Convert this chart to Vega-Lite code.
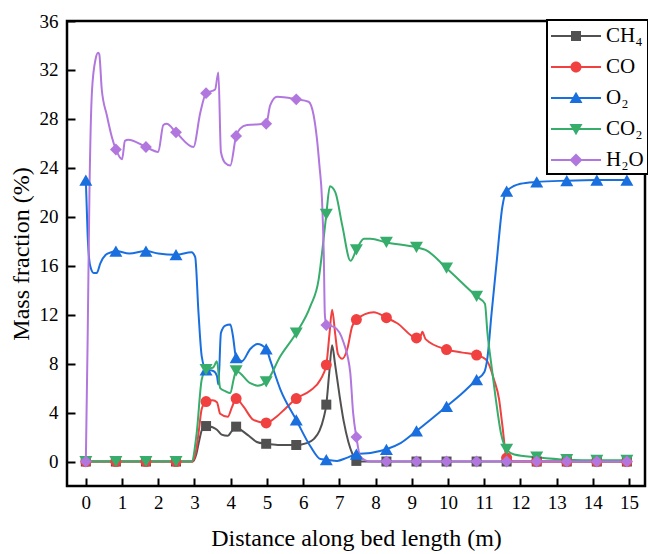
{
  "$schema": "https://vega.github.io/schema/vega-lite/v6.json",
  "width": 578,
  "height": 465,
  "autosize": {"type": "none"},
  "padding": {"left": 67, "top": 21, "right": 3, "bottom": 68},
  "background": "white",
  "config": {
    "view": {"stroke": "black", "strokeWidth": 2.5},
    "font": "Liberation Serif"
  },
  "datasets": {
    "curve": [
      {"gas":"CH₄","x":0,"y":0},{"gas":"CH₄","x":0.83,"y":0},{"gas":"CH₄","x":1.66,"y":0},{"gas":"CH₄","x":2.49,"y":0},{"gas":"CH₄","x":2.95,"y":0},{"gas":"CH₄","x":3.05,"y":0.6},{"gas":"CH₄","x":3.13,"y":1.7},{"gas":"CH₄","x":3.22,"y":2.7},{"gas":"CH₄","x":3.32,"y":2.9},{"gas":"CH₄","x":3.5,"y":2.8},{"gas":"CH₄","x":3.62,"y":2.6},{"gas":"CH₄","x":3.75,"y":2.2},{"gas":"CH₄","x":3.92,"y":2.1},{"gas":"CH₄","x":4.02,"y":2.45},{"gas":"CH₄","x":4.15,"y":2.85},{"gas":"CH₄","x":4.3,"y":2.55},{"gas":"CH₄","x":4.5,"y":2.1},{"gas":"CH₄","x":4.72,"y":1.6},{"gas":"CH₄","x":4.98,"y":1.45},{"gas":"CH₄","x":5.3,"y":1.35},{"gas":"CH₄","x":5.81,"y":1.35},{"gas":"CH₄","x":6.1,"y":1.5},{"gas":"CH₄","x":6.3,"y":1.85},{"gas":"CH₄","x":6.45,"y":2.5},{"gas":"CH₄","x":6.57,"y":3.6},{"gas":"CH₄","x":6.64,"y":4.65},{"gas":"CH₄","x":6.72,"y":7.2},{"gas":"CH₄","x":6.8,"y":9.5},{"gas":"CH₄","x":6.88,"y":8.0},{"gas":"CH₄","x":7.0,"y":5.5},{"gas":"CH₄","x":7.12,"y":3.3},{"gas":"CH₄","x":7.25,"y":1.6},{"gas":"CH₄","x":7.35,"y":0.7},{"gas":"CH₄","x":7.47,"y":0.05},{"gas":"CH₄","x":7.6,"y":0},{"gas":"CH₄","x":8.3,"y":0},{"gas":"CH₄","x":9.13,"y":0},{"gas":"CH₄","x":9.96,"y":0},{"gas":"CH₄","x":10.79,"y":0},{"gas":"CH₄","x":11.62,"y":0},{"gas":"CH₄","x":12.45,"y":0},{"gas":"CH₄","x":13.28,"y":0},{"gas":"CH₄","x":14.11,"y":0},{"gas":"CH₄","x":14.94,"y":0},

      {"gas":"CO","x":0,"y":0},{"gas":"CO","x":0.83,"y":0},{"gas":"CO","x":1.66,"y":0},{"gas":"CO","x":2.49,"y":0},{"gas":"CO","x":2.95,"y":0},{"gas":"CO","x":3.05,"y":1.0},{"gas":"CO","x":3.12,"y":2.5},{"gas":"CO","x":3.2,"y":4.3},{"gas":"CO","x":3.32,"y":4.9},{"gas":"CO","x":3.5,"y":5.0},{"gas":"CO","x":3.62,"y":4.85},{"gas":"CO","x":3.71,"y":3.9},{"gas":"CO","x":3.92,"y":3.65},{"gas":"CO","x":4.03,"y":4.4},{"gas":"CO","x":4.15,"y":5.15},{"gas":"CO","x":4.35,"y":4.5},{"gas":"CO","x":4.63,"y":3.4},{"gas":"CO","x":4.98,"y":3.15},{"gas":"CO","x":5.28,"y":3.7},{"gas":"CO","x":5.5,"y":4.3},{"gas":"CO","x":5.81,"y":5.15},{"gas":"CO","x":6.2,"y":5.8},{"gas":"CO","x":6.48,"y":6.7},{"gas":"CO","x":6.64,"y":7.9},{"gas":"CO","x":6.73,"y":10.5},{"gas":"CO","x":6.8,"y":12.4},{"gas":"CO","x":6.89,"y":10.3},{"gas":"CO","x":6.96,"y":8.8},{"gas":"CO","x":7.08,"y":8.4},{"gas":"CO","x":7.22,"y":9.2},{"gas":"CO","x":7.35,"y":11.0},{"gas":"CO","x":7.47,"y":11.6},{"gas":"CO","x":7.95,"y":12.2},{"gas":"CO","x":8.3,"y":11.75},{"gas":"CO","x":8.6,"y":11.3},{"gas":"CO","x":9.13,"y":10.1},{"gas":"CO","x":9.25,"y":10.3},{"gas":"CO","x":9.29,"y":10.6},{"gas":"CO","x":9.38,"y":10.0},{"gas":"CO","x":9.96,"y":9.15},{"gas":"CO","x":10.4,"y":8.9},{"gas":"CO","x":10.79,"y":8.7},{"gas":"CO","x":11.04,"y":8.35},{"gas":"CO","x":11.12,"y":8.0},{"gas":"CO","x":11.27,"y":6.7},{"gas":"CO","x":11.41,"y":5.1},{"gas":"CO","x":11.5,"y":3.0},{"gas":"CO","x":11.62,"y":0.3},{"gas":"CO","x":11.75,"y":0.05},{"gas":"CO","x":11.92,"y":0},{"gas":"CO","x":12.45,"y":0},{"gas":"CO","x":13.28,"y":0},{"gas":"CO","x":14.11,"y":0},{"gas":"CO","x":14.94,"y":0},

      {"gas":"O₂","x":0,"y":23},{"gas":"O₂","x":0.05,"y":18.5},{"gas":"O₂","x":0.12,"y":16.0},{"gas":"O₂","x":0.22,"y":15.4},{"gas":"O₂","x":0.3,"y":15.4},{"gas":"O₂","x":0.4,"y":16.2},{"gas":"O₂","x":0.55,"y":16.9},{"gas":"O₂","x":0.7,"y":17.1},{"gas":"O₂","x":0.83,"y":17.2},{"gas":"O₂","x":1.2,"y":17.0},{"gas":"O₂","x":1.66,"y":17.2},{"gas":"O₂","x":2.0,"y":17.0},{"gas":"O₂","x":2.49,"y":16.9},{"gas":"O₂","x":2.92,"y":17.1},{"gas":"O₂","x":3.02,"y":16.7},{"gas":"O₂","x":3.11,"y":12.2},{"gas":"O₂","x":3.2,"y":8.6},{"gas":"O₂","x":3.32,"y":7.5},{"gas":"O₂","x":3.52,"y":7.4},{"gas":"O₂","x":3.62,"y":7.0},{"gas":"O₂","x":3.66,"y":6.3},{"gas":"O₂","x":3.73,"y":10.5},{"gas":"O₂","x":3.85,"y":11.1},{"gas":"O₂","x":3.99,"y":11.2},{"gas":"O₂","x":4.06,"y":10.3},{"gas":"O₂","x":4.15,"y":8.5},{"gas":"O₂","x":4.31,"y":8.2},{"gas":"O₂","x":4.54,"y":9.2},{"gas":"O₂","x":4.74,"y":9.6},{"gas":"O₂","x":4.98,"y":9.2},{"gas":"O₂","x":5.1,"y":8.2},{"gas":"O₂","x":5.37,"y":5.9},{"gas":"O₂","x":5.81,"y":3.4},{"gas":"O₂","x":6.2,"y":1.25},{"gas":"O₂","x":6.48,"y":0.2},{"gas":"O₂","x":6.64,"y":0.15},{"gas":"O₂","x":6.94,"y":0.05},{"gas":"O₂","x":7.2,"y":0.3},{"gas":"O₂","x":7.47,"y":0.6},{"gas":"O₂","x":7.86,"y":0.7},{"gas":"O₂","x":8.3,"y":1.0},{"gas":"O₂","x":8.69,"y":1.5},{"gas":"O₂","x":9.13,"y":2.5},{"gas":"O₂","x":9.96,"y":4.5},{"gas":"O₂","x":10.4,"y":5.6},{"gas":"O₂","x":10.79,"y":6.7},{"gas":"O₂","x":11.0,"y":7.3},{"gas":"O₂","x":11.09,"y":8.5},{"gas":"O₂","x":11.2,"y":12.0},{"gas":"O₂","x":11.35,"y":16.5},{"gas":"O₂","x":11.5,"y":20.8},{"gas":"O₂","x":11.62,"y":22.1},{"gas":"O₂","x":12.0,"y":22.7},{"gas":"O₂","x":12.45,"y":22.85},{"gas":"O₂","x":13.28,"y":22.95},{"gas":"O₂","x":14.11,"y":23.0},{"gas":"O₂","x":14.94,"y":23.0},

      {"gas":"CO₂","x":0,"y":0},{"gas":"CO₂","x":0.83,"y":0},{"gas":"CO₂","x":1.66,"y":0},{"gas":"CO₂","x":2.49,"y":0},{"gas":"CO₂","x":2.92,"y":0},{"gas":"CO₂","x":3.06,"y":2.3},{"gas":"CO₂","x":3.2,"y":6.7},{"gas":"CO₂","x":3.32,"y":7.5},{"gas":"CO₂","x":3.52,"y":7.7},{"gas":"CO₂","x":3.62,"y":8.2},{"gas":"CO₂","x":3.71,"y":6.0},{"gas":"CO₂","x":3.85,"y":5.75},{"gas":"CO₂","x":3.99,"y":5.6},{"gas":"CO₂","x":4.08,"y":6.7},{"gas":"CO₂","x":4.15,"y":7.4},{"gas":"CO₂","x":4.54,"y":6.4},{"gas":"CO₂","x":4.74,"y":6.2},{"gas":"CO₂","x":4.98,"y":6.5},{"gas":"CO₂","x":5.37,"y":8.6},{"gas":"CO₂","x":5.81,"y":10.5},{"gas":"CO₂","x":6.2,"y":12.7},{"gas":"CO₂","x":6.43,"y":14.9},{"gas":"CO₂","x":6.52,"y":17.0},{"gas":"CO₂","x":6.64,"y":20.2},{"gas":"CO₂","x":6.74,"y":22.5},{"gas":"CO₂","x":6.89,"y":22.0},{"gas":"CO₂","x":7.08,"y":19.3},{"gas":"CO₂","x":7.31,"y":16.4},{"gas":"CO₂","x":7.47,"y":17.3},{"gas":"CO₂","x":7.68,"y":18.2},{"gas":"CO₂","x":7.86,"y":18.2},{"gas":"CO₂","x":8.3,"y":17.9},{"gas":"CO₂","x":9.13,"y":17.5},{"gas":"CO₂","x":9.38,"y":17.3},{"gas":"CO₂","x":9.96,"y":15.8},{"gas":"CO₂","x":10.79,"y":13.5},{"gas":"CO₂","x":11.02,"y":12.9},{"gas":"CO₂","x":11.09,"y":10.5},{"gas":"CO₂","x":11.18,"y":8.3},{"gas":"CO₂","x":11.32,"y":5.1},{"gas":"CO₂","x":11.46,"y":2.35},{"gas":"CO₂","x":11.62,"y":1.0},{"gas":"CO₂","x":11.83,"y":0.57},{"gas":"CO₂","x":12.45,"y":0.35},{"gas":"CO₂","x":13.28,"y":0.15},{"gas":"CO₂","x":14.11,"y":0.1},{"gas":"CO₂","x":14.94,"y":0.1},

      {"gas":"H₂O","x":0,"y":0},{"gas":"H₂O","x":0.05,"y":10},{"gas":"H₂O","x":0.1,"y":22},{"gas":"H₂O","x":0.17,"y":30.3},{"gas":"H₂O","x":0.27,"y":32.9},{"gas":"H₂O","x":0.34,"y":33.4},{"gas":"H₂O","x":0.37,"y":33.3},{"gas":"H₂O","x":0.44,"y":30.4},{"gas":"H₂O","x":0.58,"y":28.3},{"gas":"H₂O","x":0.72,"y":26.5},{"gas":"H₂O","x":0.83,"y":25.5},{"gas":"H₂O","x":1.0,"y":24.7},{"gas":"H₂O","x":1.08,"y":26.2},{"gas":"H₂O","x":1.17,"y":26.3},{"gas":"H₂O","x":1.66,"y":25.7},{"gas":"H₂O","x":2.0,"y":25.3},{"gas":"H₂O","x":2.14,"y":27.5},{"gas":"H₂O","x":2.23,"y":27.6},{"gas":"H₂O","x":2.49,"y":26.9},{"gas":"H₂O","x":2.97,"y":25.7},{"gas":"H₂O","x":3.16,"y":28.5},{"gas":"H₂O","x":3.32,"y":30.1},{"gas":"H₂O","x":3.57,"y":30.4},{"gas":"H₂O","x":3.66,"y":31.8},{"gas":"H₂O","x":3.73,"y":25.3},{"gas":"H₂O","x":3.85,"y":24.4},{"gas":"H₂O","x":3.99,"y":24.2},{"gas":"H₂O","x":4.15,"y":26.6},{"gas":"H₂O","x":4.26,"y":27.2},{"gas":"H₂O","x":4.45,"y":27.5},{"gas":"H₂O","x":4.98,"y":27.6},{"gas":"H₂O","x":5.09,"y":29.1},{"gas":"H₂O","x":5.28,"y":29.8},{"gas":"H₂O","x":5.81,"y":29.6},{"gas":"H₂O","x":6.15,"y":29.4},{"gas":"H₂O","x":6.29,"y":28.3},{"gas":"H₂O","x":6.38,"y":26.4},{"gas":"H₂O","x":6.45,"y":24.2},{"gas":"H₂O","x":6.52,"y":21.5},{"gas":"H₂O","x":6.57,"y":17.0},{"gas":"H₂O","x":6.6,"y":12.0},{"gas":"H₂O","x":6.64,"y":11.15},{"gas":"H₂O","x":6.85,"y":11.0},{"gas":"H₂O","x":7.12,"y":9.7},{"gas":"H₂O","x":7.3,"y":7.3},{"gas":"H₂O","x":7.38,"y":4.0},{"gas":"H₂O","x":7.47,"y":2.0},{"gas":"H₂O","x":7.58,"y":0.4},{"gas":"H₂O","x":7.86,"y":0},{"gas":"H₂O","x":8.3,"y":0},{"gas":"H₂O","x":9.13,"y":0},{"gas":"H₂O","x":9.96,"y":0},{"gas":"H₂O","x":10.79,"y":0},{"gas":"H₂O","x":11.62,"y":0},{"gas":"H₂O","x":12.45,"y":0},{"gas":"H₂O","x":13.28,"y":0},{"gas":"H₂O","x":14.11,"y":0},{"gas":"H₂O","x":14.94,"y":0}
    ],
    "markers": [
      {"gas":"CH₄","x":0,"y":0},{"gas":"CH₄","x":0.83,"y":0},{"gas":"CH₄","x":1.66,"y":0},{"gas":"CH₄","x":2.49,"y":0},{"gas":"CH₄","x":3.32,"y":2.9},{"gas":"CH₄","x":4.15,"y":2.85},{"gas":"CH₄","x":4.98,"y":1.45},{"gas":"CH₄","x":5.81,"y":1.35},{"gas":"CH₄","x":6.64,"y":4.65},{"gas":"CH₄","x":7.47,"y":0.05},{"gas":"CH₄","x":8.3,"y":0},{"gas":"CH₄","x":9.13,"y":0},{"gas":"CH₄","x":9.96,"y":0},{"gas":"CH₄","x":10.79,"y":0},{"gas":"CH₄","x":11.62,"y":0},{"gas":"CH₄","x":12.45,"y":0},{"gas":"CH₄","x":13.28,"y":0},{"gas":"CH₄","x":14.11,"y":0},{"gas":"CH₄","x":14.94,"y":0},
      {"gas":"CO","x":0,"y":0},{"gas":"CO","x":0.83,"y":0},{"gas":"CO","x":1.66,"y":0},{"gas":"CO","x":2.49,"y":0},{"gas":"CO","x":3.32,"y":4.9},{"gas":"CO","x":4.15,"y":5.15},{"gas":"CO","x":4.98,"y":3.15},{"gas":"CO","x":5.81,"y":5.15},{"gas":"CO","x":6.64,"y":7.9},{"gas":"CO","x":7.47,"y":11.6},{"gas":"CO","x":8.3,"y":11.75},{"gas":"CO","x":9.13,"y":10.1},{"gas":"CO","x":9.96,"y":9.15},{"gas":"CO","x":10.79,"y":8.7},{"gas":"CO","x":11.62,"y":0.3},{"gas":"CO","x":12.45,"y":0},{"gas":"CO","x":13.28,"y":0},{"gas":"CO","x":14.11,"y":0},{"gas":"CO","x":14.94,"y":0},
      {"gas":"O₂","x":0,"y":23},{"gas":"O₂","x":0.83,"y":17.2},{"gas":"O₂","x":1.66,"y":17.2},{"gas":"O₂","x":2.49,"y":16.9},{"gas":"O₂","x":3.32,"y":7.5},{"gas":"O₂","x":4.15,"y":8.5},{"gas":"O₂","x":4.98,"y":9.2},{"gas":"O₂","x":5.81,"y":3.4},{"gas":"O₂","x":6.64,"y":0.15},{"gas":"O₂","x":7.47,"y":0.6},{"gas":"O₂","x":8.3,"y":1.0},{"gas":"O₂","x":9.13,"y":2.5},{"gas":"O₂","x":9.96,"y":4.5},{"gas":"O₂","x":10.79,"y":6.7},{"gas":"O₂","x":11.62,"y":22.1},{"gas":"O₂","x":12.45,"y":22.85},{"gas":"O₂","x":13.28,"y":22.95},{"gas":"O₂","x":14.11,"y":23.0},{"gas":"O₂","x":14.94,"y":23.0},
      {"gas":"CO₂","x":0,"y":0},{"gas":"CO₂","x":0.83,"y":0},{"gas":"CO₂","x":1.66,"y":0},{"gas":"CO₂","x":2.49,"y":0},{"gas":"CO₂","x":3.32,"y":7.5},{"gas":"CO₂","x":4.15,"y":7.4},{"gas":"CO₂","x":4.98,"y":6.5},{"gas":"CO₂","x":5.81,"y":10.5},{"gas":"CO₂","x":6.64,"y":20.2},{"gas":"CO₂","x":7.47,"y":17.3},{"gas":"CO₂","x":8.3,"y":17.9},{"gas":"CO₂","x":9.13,"y":17.5},{"gas":"CO₂","x":9.96,"y":15.8},{"gas":"CO₂","x":10.79,"y":13.5},{"gas":"CO₂","x":11.62,"y":1.0},{"gas":"CO₂","x":12.45,"y":0.35},{"gas":"CO₂","x":13.28,"y":0.15},{"gas":"CO₂","x":14.11,"y":0.1},{"gas":"CO₂","x":14.94,"y":0.1},
      {"gas":"H₂O","x":0,"y":0},{"gas":"H₂O","x":0.83,"y":25.5},{"gas":"H₂O","x":1.66,"y":25.7},{"gas":"H₂O","x":2.49,"y":26.9},{"gas":"H₂O","x":3.32,"y":30.1},{"gas":"H₂O","x":4.15,"y":26.6},{"gas":"H₂O","x":4.98,"y":27.6},{"gas":"H₂O","x":5.81,"y":29.6},{"gas":"H₂O","x":6.64,"y":11.15},{"gas":"H₂O","x":7.47,"y":2.0},{"gas":"H₂O","x":8.3,"y":0},{"gas":"H₂O","x":9.13,"y":0},{"gas":"H₂O","x":9.96,"y":0},{"gas":"H₂O","x":10.79,"y":0},{"gas":"H₂O","x":11.62,"y":0},{"gas":"H₂O","x":12.45,"y":0},{"gas":"H₂O","x":13.28,"y":0},{"gas":"H₂O","x":14.11,"y":0},{"gas":"H₂O","x":14.94,"y":0}
    ]
  },
  "encoding": {
    "x": {
      "field": "x", "type": "quantitative",
      "scale": {"domain": [-0.52, 15.44], "nice": false, "zero": false},
      "axis": {
        "values": [0,1,2,3,4,5,6,7,8,9,10,11,12,13,14,15],
        "title": "Distance along bed length (m)",
        "titleFont": "Liberation Serif", "titleFontSize": 24, "titleFontWeight": "normal", "titleColor": "black", "titlePadding": 14,
        "labelFont": "Liberation Serif", "labelFontSize": 19, "labelColor": "black", "labelPadding": 15, "labelFlush": false,
        "tickSize": -8, "tickWidth": 2, "tickColor": "black",
        "domain": false, "grid": false
      }
    },
    "y": {
      "field": "y", "type": "quantitative",
      "scale": {"domain": [-2, 36], "nice": false, "zero": false},
      "axis": {
        "values": [0,4,8,12,16,20,24,28,32,36],
        "title": "Mass fraction (%)",
        "titleFont": "Liberation Serif", "titleFontSize": 24, "titleFontWeight": "normal", "titleColor": "black", "titlePadding": 6,
        "labelFont": "Liberation Serif", "labelFontSize": 19, "labelColor": "black", "labelPadding": 17, "labelFlush": false,
        "tickSize": -8, "tickWidth": 2, "tickColor": "black",
        "domain": false, "grid": false
      }
    },
    "color": {
      "field": "gas", "type": "nominal",
      "scale": {"domain": ["CH₄","CO","O₂","CO₂","H₂O"], "range": ["#515151","#F14040","#1A6FDF","#37AD6B","#B177DE"]},
      "legend": {
        "orient": "none", "legendX": 480, "legendY": -1,
        "title": null,
        "strokeColor": "black", "fillColor": "white",
        "padding": 4, "rowPadding": 9,
        "labelFont": "Liberation Serif", "labelFontSize": 21, "labelColor": "black", "labelOffset": 5,
        "symbolSize": 2500,
        "encode": {
          "legend": {"update": {"strokeWidth": {"value": 2}}},
          "labels": {"update": {"y": {"value": 12}}},
          "symbols": {
            "update": {
              "shape": {"signal": "datum.value === 'CH₄' ? 'M-1,-0.04H1V0.04H-1ZM-0.2,-0.2H0.2V0.2H-0.2Z' : datum.value === 'CO' ? 'M-1,-0.04H1V0.04H-1ZM0.22,0A0.22,0.22,0,1,1,-0.22,0A0.22,0.22,0,1,1,0.22,0Z' : datum.value === 'O₂' ? 'M-1,-0.04H1V0.04H-1ZM0,-0.25L0.26,0.2L-0.26,0.2Z' : datum.value === 'CO₂' ? 'M-1,-0.04H1V0.04H-1ZM0,0.25L-0.26,-0.2L0.26,-0.2Z' : 'M-1,-0.04H1V0.04H-1ZM0,-0.26L0.26,0L0,0.26L-0.26,0Z'"},
              "size": {"value": 2500},
              "y": {"value": 12},
              "fill": {"scale": "color", "field": "value"},
              "fillOpacity": {"value": 1},
              "opacity": {"value": 1},
              "strokeWidth": {"value": 0}
            }
          }
        }
      }
    }
  },
  "layer": [
    {
      "data": {"name": "curve"},
      "mark": {"type": "line", "interpolate": "monotone", "strokeWidth": 2},
      "encoding": {}
    },
    {
      "data": {"name": "markers"},
      "transform": [{"filter": "datum.gas === 'CH₄'"}],
      "mark": {"type": "point", "filled": true, "opacity": 1, "shape": "square", "size": 100},
      "encoding": {}
    },
    {
      "data": {"name": "markers"},
      "transform": [{"filter": "datum.gas === 'CO'"}],
      "mark": {"type": "point", "filled": true, "opacity": 1, "shape": "circle", "size": 120},
      "encoding": {}
    },
    {
      "data": {"name": "markers"},
      "transform": [{"filter": "datum.gas === 'O₂'"}],
      "mark": {"type": "point", "filled": true, "opacity": 1, "shape": "triangle-up", "size": 169},
      "encoding": {}
    },
    {
      "data": {"name": "markers"},
      "transform": [{"filter": "datum.gas === 'CO₂'"}],
      "mark": {"type": "point", "filled": true, "opacity": 1, "shape": "triangle-down", "size": 169},
      "encoding": {}
    },
    {
      "data": {"name": "markers"},
      "transform": [{"filter": "datum.gas === 'H₂O'"}],
      "mark": {"type": "point", "filled": true, "opacity": 1, "shape": "diamond", "size": 140},
      "encoding": {}
    }
  ]
}
